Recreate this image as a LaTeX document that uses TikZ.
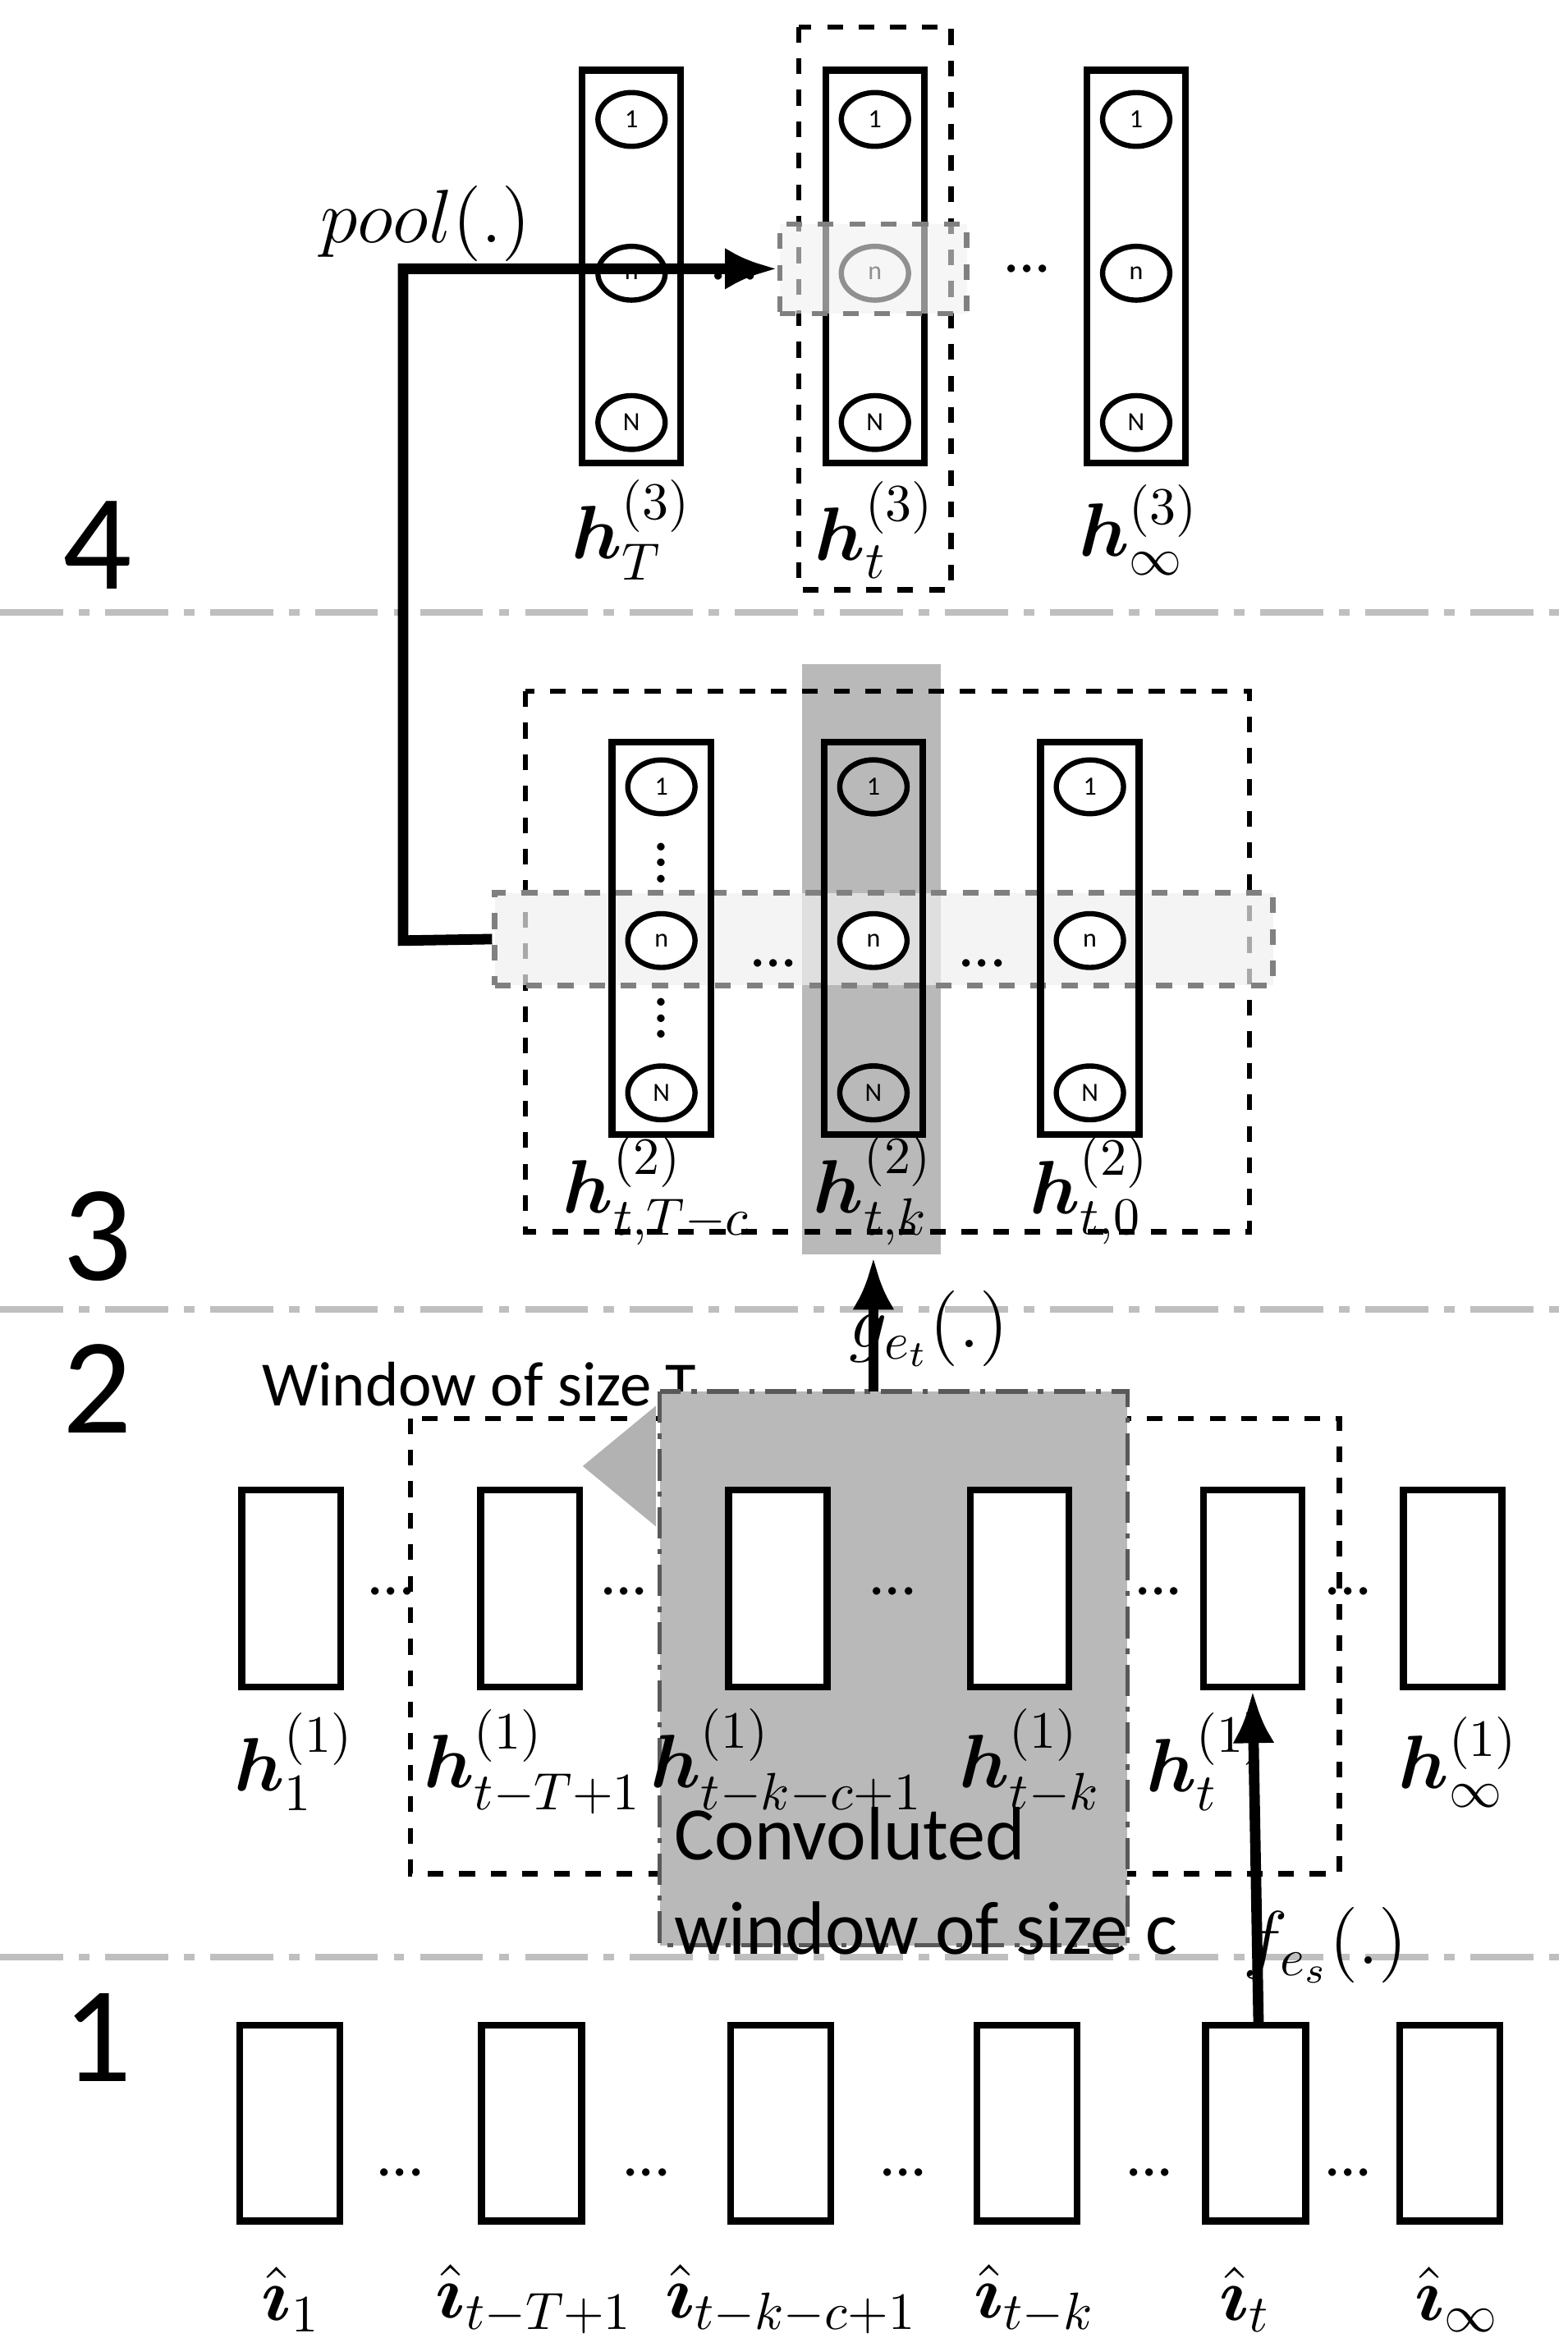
\documentclass[tikz,border=0pt]{standalone}
\usepackage{amsmath}
\usepackage{amssymb}
\usepackage{fontspec}
\setmainfont{Carlito}
\usetikzlibrary{positioning, arrows.meta, shapes.geometric}

\tikzset{
  sep/.style={gray!50, line width=1.2pt, dash pattern=on 12pt off 3pt on 2pt off 3pt},
  lvl/.style={font=\fontsize{26}{28}\selectfont, anchor=center},
  col/.style={draw, line width=1.3pt, fill=white},
  neu/.style={draw, ellipse, line width=1pt, minimum width=0.45cm, minimum height=0.36cm, inner sep=0pt, font=\fontsize{5}{6}\selectfont},
  vec/.style={draw, line width=1.3pt, fill=white},
  win/.style={draw, dashed, line width=1pt},
  band/.style={draw=gray, dashed, line width=1pt, fill=gray!12},
  lab/.style={font=\Large, inner sep=0pt},
  dots/.style={font=\large, inner sep=0pt},
  flow/.style={line width=2pt, -{Latex[length=10pt,width=8pt]}},
}
\newcommand{\bh}{\boldsymbol{h}}
\newcommand{\bi}{\hat{\boldsymbol{\imath}}}

\begin{document}
\begin{tikzpicture}[x=0.01cm, y=-0.01cm]
\useasboundingbox (0,0) rectangle (1050,1566);

% separators and level numbers
\foreach \yy in {410, 877, 1311}
  \draw[sep] (0,\yy) -- (1050,\yy);
\node[lvl] (n4) at (65,365) {4};
\node[lvl] (n3) at (65,828) {3};
\node[lvl] (n2) at (65,930) {2};
\node[lvl] (n1) at (65,1365) {1};

% level 4
\draw[win] (535,18) rectangle (637,395);
\foreach \cx/\nm in {423/T, 586/t, 761/inf} {
  \draw[col] (\cx-33,47) rectangle (\cx+33,310);
  \node[neu] (c4\nm1) at (\cx,80) {1};
  \node[neu] (c4\nm n) at (\cx,183) {n};
  \node[neu] (c4\nm N) at (\cx,283) {N};
}
\node[band, fill opacity=0.6, minimum width=1.25cm, minimum height=0.6cm] (pool4) at (585,180) {};
\node[dots] at (492,185) {...};
\node[dots] at (688,180) {...};
\node[lab] (hT3) at (423,355) {$\bh_T^{(3)}$};
\node[lab] (ht3) at (586,355) {$\bh_t^{(3)}$};
\node[lab] (hi3) at (763,355) {$\bh_\infty^{(3)}$};
\node[font=\Large] (poollab) at (285,150) {$pool(.)$};

% level 3
\fill[gray!55] (537,445) rectangle (630,840);
\draw[win] (352,463) rectangle (837,825);
\node[band, minimum width=5.21cm, minimum height=0.62cm, fill opacity=0.7] (band3) at (592,629) {};
\foreach \cx/\nm in {443/a, 585/k, 730/z} {
  \draw[col, fill=none] (\cx-33,497) rectangle (\cx+33,760);
  \node[neu, fill=white] (c3\nm1) at (\cx,527) {1};
  \node[neu, fill=white] (c3\nm n) at (\cx,630) {n};
  \node[neu, fill=white] (c3\nm N) at (\cx,732) {N};
}
\node[neu, fill=gray!55] at (585,527) {1};
\node[neu, fill=gray!55] at (585,732) {N};
\node[dots, rotate=90] at (443,578) {...};
\node[dots, rotate=90] at (443,682) {...};
\node[dots] at (518,645) {...};
\node[dots] at (658,645) {...};
\node[lab] (hT2) at (440,797) {$\bh_{t,T-c}^{(2)}$};
\node[lab] (hk2) at (585,797) {$\bh_{t,k}^{(2)}$};
\node[lab] (h02) at (730,797) {$\bh_{t,0}^{(2)}$};

% pooling connector
\coordinate (bend1) at (270,630);
\coordinate (bend2) at (270,180);
\draw[flow] (band3.west) -- (bend1) -- (bend2) -- (pool4.west);

% level 2
\node[font=\large, anchor=west] (wT) at (163,927) {Window of size T};
\draw[win] (275,950) rectangle (897,1255);
\draw[fill=gray!55, draw=gray!70!black, dash pattern=on 6pt off 2pt on 1pt off 2pt, line width=0.8pt] (442,932) rectangle (755,1303);
\draw[gray!60, line width=10pt, -{Triangle[length=14pt,width=22pt]}] (438,982) -- (390,982);
\foreach \cx/\nm in {195/a, 355/b, 521/c, 683/d, 839/e, 973/f}
  \node[vec, minimum width=0.66cm, minimum height=1.32cm, inner sep=0pt] (h1\nm) at (\cx,1064) {};
\foreach \cx in {262,418,598,776,903}
  \node[dots] at (\cx,1066) {...};
\node[lab] (l1a) at (197,1180) {$\bh_1^{(1)}$};
\node[lab] (l1b) at (357,1180) {$\bh_{t-T+1}^{(1)}$};
\node[lab] (l1c) at (527,1180) {$\bh_{t-k-c+1}^{(1)}$};
\node[lab] (l1d) at (690,1180) {$\bh_{t-k}^{(1)}$};
\node[lab] (l1e) at (808,1180) {$\bh_t^{(1)}$};
\node[lab] (l1f) at (977,1180) {$\bh_\infty^{(1)}$};
\node[font=\Large, anchor=north west, align=left, inner sep=0pt] (cw) at (451,1210) {Convoluted\\window of size c};
\coordinate (gtop) at (585,932);
\coordinate (gend) at (585,842);
\draw[flow] (gtop) -- (gend);
\node[font=\Large] (glab) at (622,890) {$g_{e_t}(.)$};

% level 1
\foreach \cx/\nm in {194/a, 356/b, 523/c, 688/d, 841/e, 971/f}
  \node[vec, minimum width=0.67cm, minimum height=1.31cm, inner sep=0pt] (i\nm) at (\cx,1422) {};
\foreach \cx in {268,433,605,770,903}
  \node[dots] at (\cx,1455) {...};
\node[lab] (ia) at (195,1540) {$\bi_1$};
\node[lab] (ib) at (358,1540) {$\bi_{t-T+1}$};
\node[lab] (ic) at (530,1540) {$\bi_{t-k-c+1}$};
\node[lab] (id) at (693,1540) {$\bi_{t-k}$};
\node[lab] (ie) at (834,1540) {$\bi_t$};
\node[lab] (if) at (976,1540) {$\bi_\infty$};
\coordinate (fs) at (843,1358);
\draw[flow] (fs) -- (h1e.south);
\node[font=\Large] (flab) at (888,1303) {$f_{e_s}(.)$};
\end{tikzpicture}
\end{document}
